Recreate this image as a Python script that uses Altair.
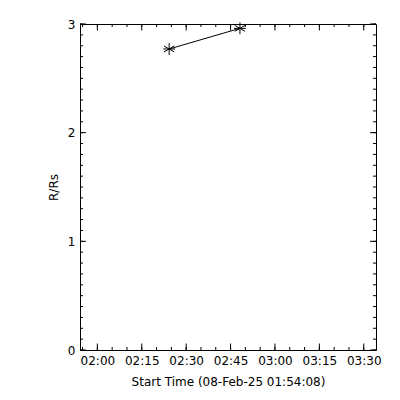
import altair as alt
import pandas as pd

# ---- data ----
times = ["2025-02-08 02:24:15", "2025-02-08 02:48:10"]
r_rs = [2.77, 2.96]

x_start = "2025-02-08 01:54:08"
x_end = "2025-02-08 03:34:08"
y_major = [0, 1, 2, 3]
y_minor = [round(i * 0.1, 1) for i in range(0, 31)]
x_major_labels = ["02:00", "02:15", "02:30", "02:45", "03:00", "03:15", "03:30"]

def ms(s):
    return int(pd.Timestamp(s, tz="UTC").value // 10**6)

x_major = [ms("2025-02-08 " + t + ":00") for t in x_major_labels]
x_minor = [ms(t) for t in pd.date_range("2025-02-08 01:55:00", "2025-02-08 03:30:00", freq="5min")]

W, H = 296, 326
FONT = "DejaVu Sans"
FS = 12

xscale = alt.Scale(type="utc", domain=[ms(x_start), ms(x_end)])
yscale = alt.Scale(domain=[0, 3])

df = pd.DataFrame({"t": [ms(t) for t in times], "r": r_rs})

xaxis = alt.Axis(values=x_major, labelExpr="utcFormat(datum.value, '%H:%M')", ticks=False, domain=False,
                 grid=False, labelPadding=5, titlePadding=10, title="Start Time (08-Feb-25 01:54:08)",
                 labelFlush=False, labelOverlap=False)
yaxis = alt.Axis(values=y_major, ticks=False, domain=False, grid=False, labelPadding=5,
                 titlePadding=7, title="R/Rs", format="d")

X = lambda: alt.X("t:T", scale=xscale, axis=xaxis)
Y = lambda f="r:Q": alt.Y(f, scale=yscale, axis=yaxis)

line = alt.Chart(df).mark_line(color="black", strokeWidth=1).encode(x=X(), y=Y())
asterisk = "M0,-1L0,1M-0.87,-0.5L0.87,0.5M-0.87,0.5L0.87,-0.5M-1,0L1,0"
pts = alt.Chart(df).mark_point(shape=asterisk, size=140, filled=False, color="black",
                               strokeWidth=1, opacity=1).encode(x=X(), y=Y())

def xticks(vals, length):
    d = pd.DataFrame({"t": vals})
    base = alt.Chart(d).mark_rule(color="black", strokeWidth=1)
    bottom = base.encode(x=X(), y=alt.value(H), y2=alt.value(H - length))
    top = base.encode(x=X(), y=alt.value(0), y2=alt.value(length))
    return [bottom, top]

def yticks(vals, length):
    d = pd.DataFrame({"v": vals})
    base = alt.Chart(d).mark_rule(color="black", strokeWidth=1)
    left = base.encode(y=Y("v:Q"), x=alt.value(0), x2=alt.value(length))
    right = base.encode(y=Y("v:Q"), x=alt.value(W), x2=alt.value(W - length))
    return [left, right]

layers = [line, pts] + xticks(x_major, 6.5) + xticks(x_minor, 3) + yticks(y_major, 6) + yticks(y_minor, 3)

chart = alt.layer(*layers).properties(
    width=W, height=H,
    autosize=alt.AutoSizeParams(type="none"),
    padding={"left": 72, "top": 16, "right": 16, "bottom": 42},
    background="white",
).configure_view(stroke="black", strokeWidth=1).configure_axis(
    labelFont=FONT, titleFont=FONT, labelFontSize=FS, titleFontSize=FS,
    labelColor="black", titleColor="black", titleFontWeight="normal",
)

chart.save("out.html", embed_options={"renderer": "svg", "actions": False})
